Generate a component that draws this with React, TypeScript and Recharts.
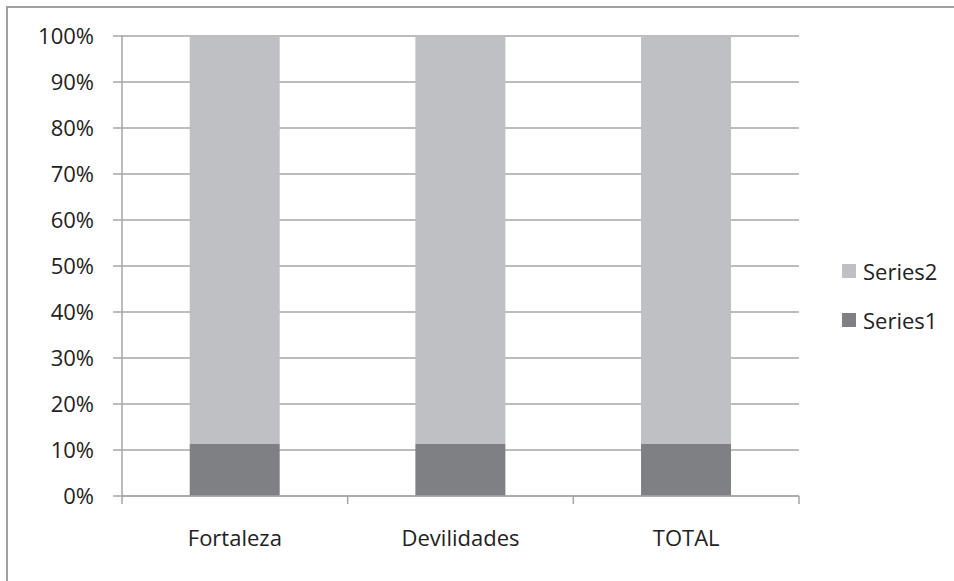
import { BarChart, Bar, XAxis, YAxis, CartesianGrid } from "recharts";

const categories = ["Fortaleza", "Devilidades", "TOTAL"];
const series1 = [11.4, 11.4, 11.4];
const series2 = [88.6, 88.6, 88.6];
const yTicks = [0, 10, 20, 30, 40, 50, 60, 70, 80, 90, 100];

const data = categories.map((name, i) => ({
  name,
  s1: series1[i],
  s2: series2[i],
}));

const FONT = "'Open Sans', sans-serif";
const GRID = "#a6a6a6";
const LINE_W = 1.5;
const TEXT = "#222";
const COLOR1 = "#7f8084";
const COLOR2 = "#bfc0c4";

// category label + tick marks on the band edges (Excel style)
function CategoryTick(props: any) {
  const { x, y, payload, index, visibleTicksCount } = props;
  const half = payload.offset || 0;
  const isLast = index === visibleTicksCount - 1;
  return (
    <g>
      <line x1={x - half} x2={x - half} y1={y} y2={y + 8} stroke={GRID} strokeWidth={LINE_W} />
      {isLast && (
        <line x1={x + half} x2={x + half} y1={y} y2={y + 8} stroke={GRID} strokeWidth={LINE_W} />
      )}
      <text x={x} y={y + 50} textAnchor="middle" fill={TEXT} fontSize={22} fontFamily={FONT}>
        {payload.value}
      </text>
    </g>
  );
}

function LegendBox() {
  const items = [
    { label: "Series2", color: COLOR2 },
    { label: "Series1", color: COLOR1 },
  ];
  return (
    <div
      style={{
        position: "absolute",
        left: 842,
        top: 246,
        fontFamily: FONT,
        fontSize: 22,
        color: TEXT,
      }}
    >
      {items.map((it) => (
        <div key={it.label} style={{ display: "flex", alignItems: "center", height: 49 }}>
          <span
            style={{
              width: 14,
              height: 14,
              background: it.color,
              marginRight: 7,
              display: "inline-block",
            }}
          />
          <span>{it.label}</span>
        </div>
      ))}
    </div>
  );
}

export default function App() {
  return (
    <div style={{ position: "absolute", left: 0, top: 0, width: 954, height: 581 }}>
      <div
        style={{
          position: "absolute",
          left: 6,
          top: 6,
          width: 960,
          height: 600,
          borderLeft: "2px solid #a0a0a0",
          borderTop: "2px solid #a0a0a0",
        }}
      />
      <BarChart
        width={954}
        height={581}
        data={data}
        margin={{ top: 36, right: 155, left: 0, bottom: 25 }}
        barCategoryGap="30%"
      >
        <CartesianGrid vertical={false} stroke={GRID} strokeWidth={LINE_W} />
        <XAxis
          dataKey="name"
          height={60}
          axisLine={{ stroke: GRID, strokeWidth: LINE_W }}
          tickLine={false}
          tickSize={0}
          tickMargin={0}
          interval={0}
          tick={<CategoryTick />}
        />
        <YAxis
          width={122}
          domain={[0, 100]}
          ticks={yTicks}
          tickFormatter={(v: number) => `${v}%`}
          tickSize={9}
          tickMargin={19}
          axisLine={{ stroke: GRID, strokeWidth: LINE_W }}
          tickLine={{ stroke: GRID, strokeWidth: LINE_W }}
          tick={{ fill: TEXT, fontSize: 22, fontFamily: FONT }}
        />
        <Bar dataKey="s1" stackId="a" fill={COLOR1} isAnimationActive={false} />
        <Bar dataKey="s2" stackId="a" fill={COLOR2} isAnimationActive={false} />
      </BarChart>
      <LegendBox />
    </div>
  );
}
